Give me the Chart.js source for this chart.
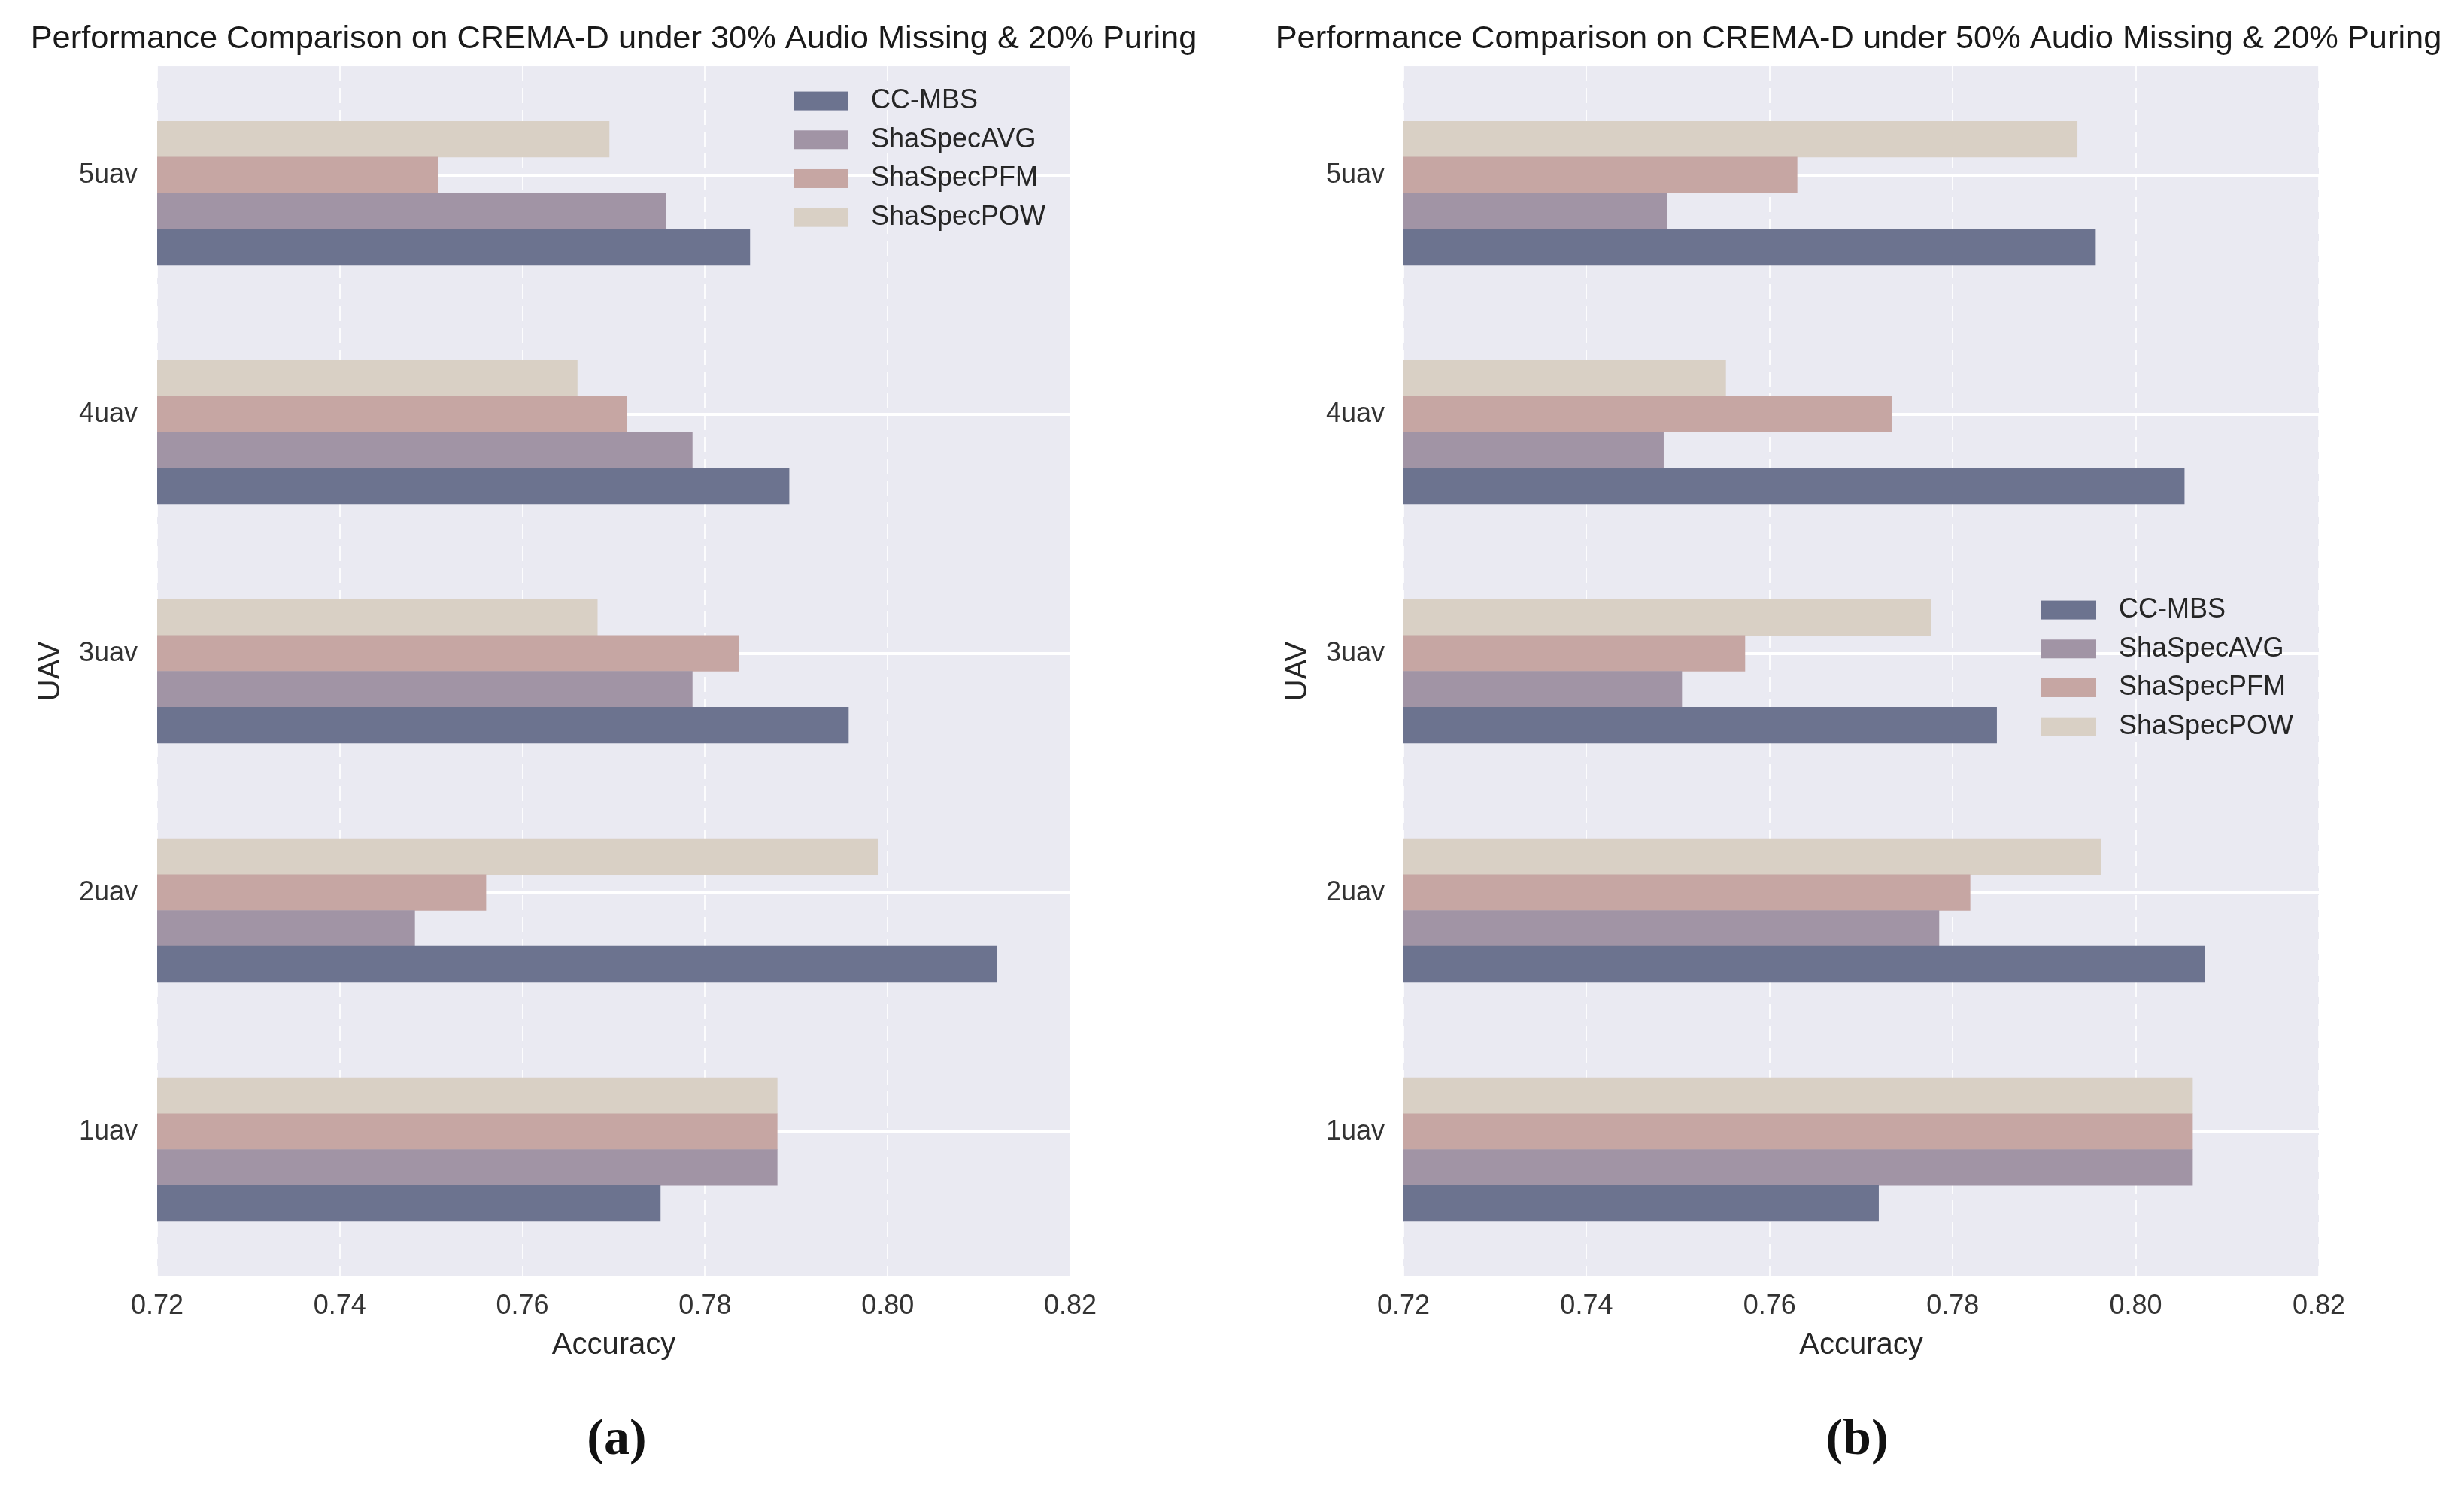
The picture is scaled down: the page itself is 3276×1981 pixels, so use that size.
<!DOCTYPE html>
<html>
<head>
<meta charset="utf-8">
<script src="https://cdn.jsdelivr.net/npm/chart.js@4.4.1/dist/chart.umd.min.js"></script>
<style>
  body { margin: 0; background: #fff; width: 3276px; height: 1981px; position: relative; overflow: hidden; }
  canvas { position: absolute; top: 0; }
  .cap { position: absolute; font-family: "Liberation Serif", serif; font-weight: bold; font-size: 68px; color: #111; transform: translate(-50%, -50%); }
</style>
</head>
<body>
<canvas id="chartA" width="1632" height="1840" style="left:0"></canvas>
<canvas id="chartB" width="1636" height="1840" style="left:1653px"></canvas>
<div class="cap" style="left:820px; top:1910px">(a)</div>
<div class="cap" style="left:2469px; top:1910px">(b)</div>
<script>
const categories = ['1uav', '2uav', '3uav', '4uav', '5uav'];
const methods = ['CC-MBS', 'ShaSpecAVG', 'ShaSpecPFM', 'ShaSpecPOW'];
const xTicks = [0.72, 0.74, 0.76, 0.78, 0.80, 0.82];

// (a) 30% audio missing, 1uav .. 5uav
const ccA  = [0.7751, 0.8119, 0.7957, 0.7892, 0.7849];
const avgA = [0.7879, 0.7482, 0.7786, 0.7786, 0.7757];
const pfmA = [0.7879, 0.7560, 0.7837, 0.7714, 0.7507];
const powA = [0.7879, 0.7989, 0.7682, 0.7660, 0.7695];

// (b) 50% audio missing
const ccB  = [0.7719, 0.8075, 0.7848, 0.8053, 0.7956];
const avgB = [0.8062, 0.7785, 0.7504, 0.7484, 0.7488];
const pfmB = [0.8062, 0.7819, 0.7573, 0.7733, 0.7630];
const powB = [0.8062, 0.7962, 0.7776, 0.7552, 0.7936];

const colors = ['#6c738f', '#a194a5', '#c6a6a3', '#d9d0c5'];
const fontFam = '"Liberation Sans", Arial, sans-serif';
Chart.defaults.font.family = fontFam;

// seaborn-like grey panel
const panelBg = {
  id: 'panelBg',
  beforeDraw(chart) {
    const {ctx, chartArea: a} = chart;
    ctx.save();
    ctx.fillStyle = '#eaeaf2';
    ctx.fillRect(a.left, a.top, a.right - a.left, a.bottom - a.top);
    ctx.restore();
  }
};

// legend drawn inside the plot, like matplotlib's
const insideLegend = {
  id: 'insideLegend',
  afterDatasetsDraw(chart, args, opts) {
    const {ctx, chartArea: a} = chart;
    ctx.save();
    ctx.font = '36px ' + fontFam;
    ctx.textBaseline = 'middle';
    chart.data.datasets.forEach((ds, i) => {
      const cy = a.top + opts.y + i * 51.7;
      ctx.fillStyle = ds.backgroundColor;
      ctx.fillRect(a.left + opts.x, cy - 12.5, 73, 25);
      ctx.fillStyle = '#262626';
      ctx.fillText(ds.label, a.left + opts.x + 103, cy);
    });
    ctx.restore();
  }
};

function makeChart(id, title, series, cfg) {
  const datasets = series.map((vals, k) => ({
    label: methods[k],
    backgroundColor: colors[k],
    borderWidth: 0,
    data: vals.map((v, i) => ({ x: v, y: i + (k - 2) * 0.15 }))
  }));
  return new Chart(document.getElementById(id), {
    type: 'bar',
    data: { datasets },
    plugins: [panelBg, insideLegend],
    options: {
      responsive: false,
      animation: false,
      indexAxis: 'y',
      layout: { padding: 0 },
      datasets: { bar: { grouped: false, categoryPercentage: 1, barPercentage: 1 } },
      plugins: {
        legend: { display: false },
        tooltip: { enabled: false },
        title: {
          display: true, text: title, color: '#1a1a1a',
          font: { size: 43.4, weight: 'normal' },
          padding: { top: 26, bottom: 10 }
        },
        insideLegend: cfg.legend
      },
      scales: {
        x: {
          type: 'linear', min: 0.72, max: 0.82,
          afterBuildTicks: s => { s.ticks = xTicks.map(v => ({ value: v })); },
          afterFit: s => { s.height = 143; },
          ticks: { callback: v => v.toFixed(2), font: { size: 36 }, color: '#333', padding: 18 },
          grid: { color: 'rgba(255,255,255,0.85)', lineWidth: 2, drawTicks: false },
          border: { display: false, dash: [20, 9] },
          title: { display: true, text: 'Accuracy', font: { size: 40 }, color: '#262626', padding: { top: 0, bottom: 27 } }
        },
        y: {
          type: 'linear', min: -0.605, max: 4.455, offset: false,
          afterBuildTicks: s => { s.ticks = categories.map((c, i) => ({ value: i })); },
          afterFit: s => { s.width = cfg.yWidth; },
          ticks: { callback: v => categories[v], font: { size: 36 }, color: '#333', padding: cfg.tickPad },
          grid: { color: '#ffffff', lineWidth: 4, drawTicks: false, offset: false },
          border: { display: false },
          title: { display: true, text: 'UAV', font: { size: 40 }, color: '#262626', padding: { top: cfg.titlePad, bottom: 0 } }
        },
        // empty spacer on the right so the title stays centred over the plot
        yRight: {
          type: 'linear', position: 'right', display: true,
          grid: { display: false }, border: { display: false }, ticks: { display: false },
          afterFit: s => { s.width = cfg.rightWidth; }
        }
      }
    }
  });
}

makeChart('chartA', 'Performance Comparison on CREMA-D under 30% Audio Missing & 20% Puring',
  [ccA, avgA, pfmA, powA],
  { rightWidth: 209, yWidth: 209, tickPad: 26, titlePad: 44, legend: { x: 846, y: 46 } });

makeChart('chartB', 'Performance Comparison on CREMA-D under 50% Audio Missing & 20% Puring',
  [ccB, avgB, pfmB, powB],
  { rightWidth: 206, yWidth: 213, tickPad: 25, titlePad: 49, legend: { x: 848, y: 723 } });
</script>
</body>
</html>
